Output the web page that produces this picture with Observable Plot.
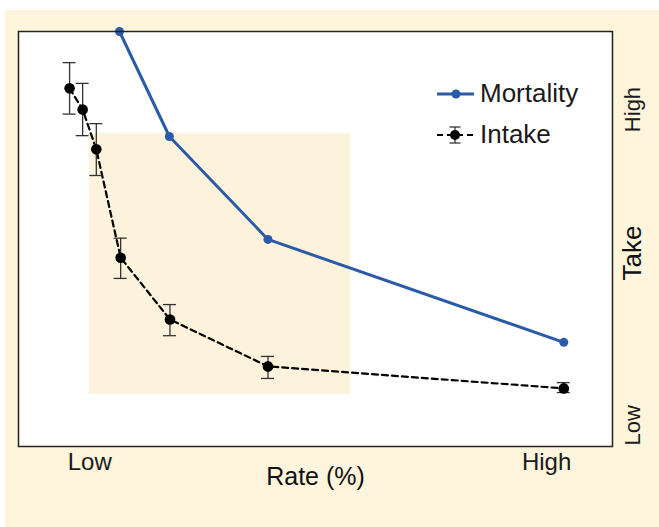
<!DOCTYPE html>
<html>
<head>
<meta charset="utf-8">
<script src="https://cdn.jsdelivr.net/npm/d3@7"></script>
<script src="https://cdn.jsdelivr.net/npm/@observablehq/plot@0.6"></script>
<style>
  html, body { margin: 0; padding: 0; background: #ffffff; width: 659px; height: 527px; overflow: hidden; }
  #panel { position: absolute; left: 5px; top: 10px; width: 654px; height: 517px; background: #fef5dc; }
  #panel svg { background: transparent; overflow: visible; font-family: "Liberation Sans", Arial, sans-serif; }
  #legend { position: absolute; left: 437px; top: 73px; font-family: "Liberation Sans", Arial, sans-serif; font-size: 26px; color: #1a1a1a; }
  .row { display: flex; align-items: center; height: 41px; }
  .row svg { display: block; margin-right: 5px; }
</style>
</head>
<body>
<div id="panel"></div>
<div id="legend"></div>
<script>
// ---- data ----
const mortalityRate = [17.0, 25.4, 42.0, 91.8];
const mortalityTake = [100, 74.7, 49.9, 25.1];

const intakeRate = [8.6, 10.8, 13.1, 17.2, 25.5, 42.0, 91.8];
const intakeTake = [86.3, 81.2, 71.6, 45.5, 30.6, 19.3, 14.0];
const intakeLow  = [80.1, 74.9, 65.3, 40.5, 26.7, 16.4, 13.0];
const intakeHigh = [92.5, 87.5, 77.8, 50.2, 34.2, 21.7, 15.4];

const shadedRate = [12.0, 55.9];
const shadedTake = [12.5, 75.4];

const xTickValues = [12.0, 88.9];
const xTickLabels = ["Low", "High"];
const yTickValues = [5.1, 81.2];
const yTickLabels = ["Low", "High"];

const seriesNames = ["Mortality", "Intake"];
const blue = "#2b5aa6";

// ---- tables built from arrays ----
const mortality = mortalityRate.map((x, i) => ({x, y: mortalityTake[i]}));
const intake = intakeRate.map((x, i) => ({x, y: intakeTake[i], lo: intakeLow[i], hi: intakeHigh[i]}));
const shaded = [{x1: shadedRate[0], x2: shadedRate[1], y1: shadedTake[0], y2: shadedTake[1]}];

const chart = Plot.plot({
  width: 654,
  height: 517,
  marginLeft: 13,
  marginRight: 47,
  marginTop: 21,
  marginBottom: 81,
  x: {domain: [0, 100]},
  y: {domain: [0, 100], axis: null},
  marks: [
    Plot.frame({fill: "white", stroke: "none"}),
    Plot.rect(shaded, {x1: "x1", x2: "x2", y1: "y1", y2: "y2", fill: "#fdf3dc"}),
    Plot.line(mortality, {x: "x", y: "y", stroke: blue, strokeWidth: 3}),
    Plot.dot(mortality, {x: "x", y: "y", r: 4.5, fill: blue}),
    Plot.line(intake, {x: "x", y: "y", stroke: "black", strokeWidth: 2.2, strokeDasharray: "6,4"}),
    Plot.ruleX(intake, {x: "x", y1: "lo", y2: "hi", stroke: "#333", strokeWidth: 1.3}),
    Plot.ruleY(intake, {y: "lo", x1: "x", x2: "x", insetLeft: -6.5, insetRight: -6.5, stroke: "#333", strokeWidth: 1.3}),
    Plot.ruleY(intake, {y: "hi", x1: "x", x2: "x", insetLeft: -6.5, insetRight: -6.5, stroke: "#333", strokeWidth: 1.3}),
    Plot.dot(intake, {x: "x", y: "y", r: 5.3, fill: "black"}),
    Plot.frame({stroke: "#222", strokeWidth: 1.5}),
    Plot.axisX({ticks: xTickValues, tickFormat: (d, i) => xTickLabels[i], tickSize: 0, tickPadding: 6, fontSize: 24, label: null, fill: "#1a1a1a"}),
    Plot.text(["Rate (%)"], {frameAnchor: "bottom", lineAnchor: "middle", dy: 30, fontSize: 25, fill: "#111"}),
    Plot.text(yTickValues, {y: d => d, text: (d, i) => yTickLabels[i], frameAnchor: "right", textAnchor: "middle", lineAnchor: "middle", dx: 20, rotate: -90, fontSize: 22, fill: "#1a1a1a"}),
    Plot.text(["Take"], {frameAnchor: "right", textAnchor: "middle", lineAnchor: "middle", dx: 20, dy: 14, rotate: -90, fontSize: 26, fill: "#111"})
  ]
});
document.getElementById("panel").appendChild(chart);

// ---- legend (inside plot frame) ----
const legend = document.getElementById("legend");
legend.innerHTML = `
  <div class="row">
    <svg width="38" height="20"><line x1="0" x2="37" y1="10" y2="10" stroke="${blue}" stroke-width="3"/><circle cx="19" cy="10" r="4.5" fill="${blue}"/></svg>
    <span>${seriesNames[0]}</span>
  </div>
  <div class="row">
    <svg width="38" height="22"><line x1="0" x2="37" y1="11" y2="11" stroke="black" stroke-width="2" stroke-dasharray="6,4"/><line x1="18" x2="18" y1="3" y2="19" stroke="#333" stroke-width="1.3"/><line x1="12.5" x2="23.5" y1="3" y2="3" stroke="#333" stroke-width="1.3"/><line x1="12.5" x2="23.5" y1="19" y2="19" stroke="#333" stroke-width="1.3"/><circle cx="18" cy="11" r="5" fill="black"/></svg>
    <span>${seriesNames[1]}</span>
  </div>`;
</script>
</body>
</html>
